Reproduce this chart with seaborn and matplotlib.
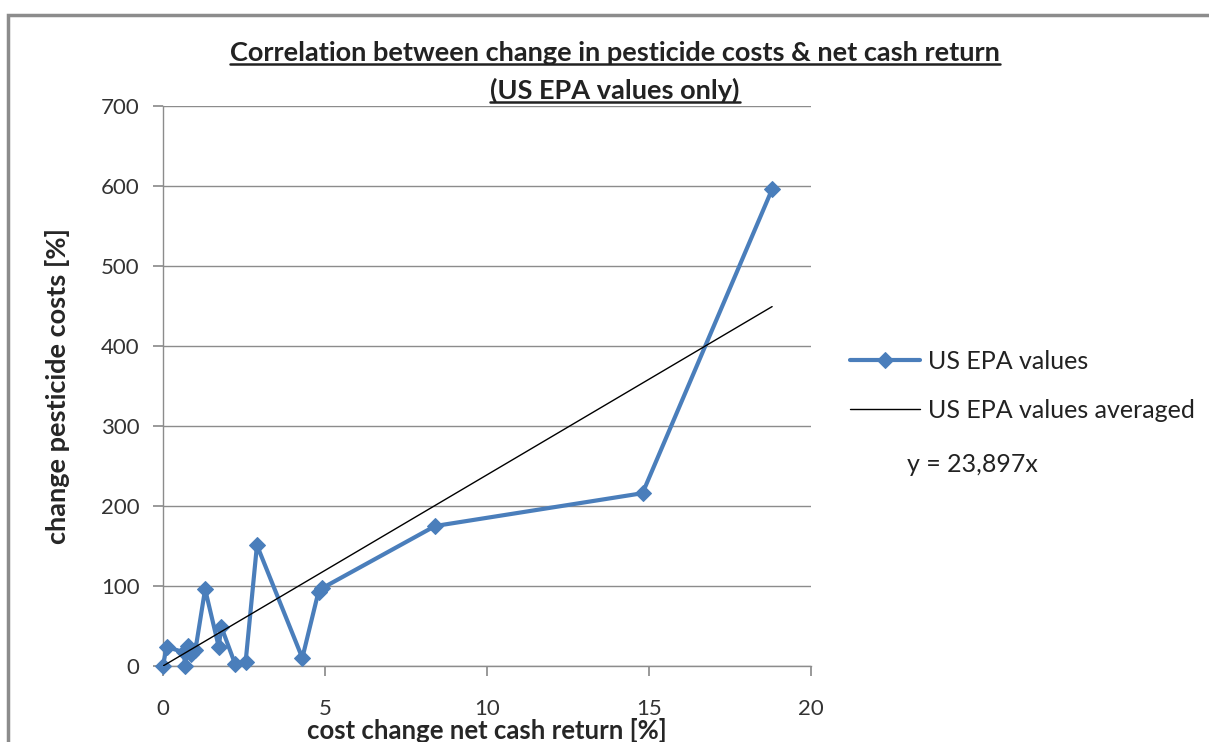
import matplotlib
matplotlib.use("Agg")
import matplotlib.pyplot as plt
import seaborn as sns
import numpy as np
import pandas as pd
from matplotlib.patches import Rectangle
from matplotlib.lines import Line2D

# data (x = cost change net cash return, y = change pesticide costs)
cost_change = [0.0, 0.11, 0.65, 0.68, 0.78, 0.85, 1.0, 1.3, 1.72, 1.8,
               2.22, 2.55, 2.9, 4.3, 4.8, 4.9, 8.4, 14.8, 18.8]
pest_change = [0, 24, 17, 0, 25, 15, 20, 96, 24, 49,
               3, 5, 151, 10, 93, 97, 175, 216, 596]
slope = 23.897

df = pd.DataFrame({"x": cost_change, "y": pest_change})

sns.set_theme(style="white")
plt.rcParams["font.family"] = ["Lato", "DejaVu Sans"]

fig = plt.figure(figsize=(12.09, 7.42), dpi=100)
ax = fig.add_axes([163 / 1209, 1 - 666 / 742, (811 - 163) / 1209, (666 - 106) / 742])

# outer chart frame
fig.patches.append(Rectangle((8 / 1209, -0.1), 1.2, 1 - 15 / 742 + 0.1,
                             transform=fig.transFigure, fill=False,
                             edgecolor="#8c8c8c", linewidth=2.5))

ax.set_xlim(0, 20)
ax.set_ylim(0, 700)
ax.set_yticks(range(0, 701, 100))
ax.set_xticks(range(0, 21, 5))
ax.yaxis.grid(True, color="#8c8c8c", linewidth=1)
ax.xaxis.grid(False)
for s in ["top", "right"]:
    ax.spines[s].set_visible(False)
for s in ["left", "bottom"]:
    ax.spines[s].set_color("#8c8c8c")
    ax.spines[s].set_linewidth(1)
ax.tick_params(axis="both", direction="out", length=7, color="#8c8c8c",
               labelsize=16, labelcolor="#333333", bottom=True, left=True)
ax.tick_params(axis="x", pad=17)
ax.tick_params(axis="y", pad=10)

sns.lineplot(data=df, x="x", y="y", sort=False, ax=ax, color="#4a7ebb",
             linewidth=3, marker="D", markersize=8, markeredgecolor="#4a7ebb",
             label="US EPA values", legend=False, zorder=3, clip_on=False)

xt = np.array([0, max(cost_change)])
ax.plot(xt, slope * xt, color="black", linewidth=1, zorder=4,
        label="US EPA values averaged")

ax.set_xlabel("cost change net cash return [%]", fontsize=18.5, fontweight="bold",
              labelpad=-1)
ax.set_ylabel("change pesticide costs [%]", fontsize=19.5, fontweight="bold",
              labelpad=22)

leg = ax.legend(loc="center left", bbox_to_anchor=(1.045, 0.5), frameon=False,
                fontsize=18, handlelength=2.8, labelspacing=1.05,
                handletextpad=0.3, borderaxespad=0)
for t in leg.get_texts():
    t.set_color("#222222")
fig.text(907 / 1209, 1 - 464 / 742, "y = 23,897x", fontsize=18, color="#222222",
         va="center", ha="left")

# underlined two-line title
t1 = fig.text(615 / 1209, 1 - 53 / 742, "Correlation between change in pesticide costs & net cash return",
              ha="center", va="center", fontsize=19.5, fontweight="bold", color="#222222")
t2 = fig.text(615 / 1209, 1 - 90 / 742, "(US EPA values only)",
              ha="center", va="center", fontsize=19.5, fontweight="bold", color="#222222")
fig.canvas.draw()
r = fig.canvas.get_renderer()
for t in (t1, t2):
    bb = t.get_window_extent(r).transformed(fig.transFigure.inverted())
    fig.lines.append(Line2D([bb.x0, bb.x1], [bb.y0 + 0.001, bb.y0 + 0.001],
                            transform=fig.transFigure, color="#222222", linewidth=1.8))

fig.savefig("out.png", dpi=100, facecolor="white")
